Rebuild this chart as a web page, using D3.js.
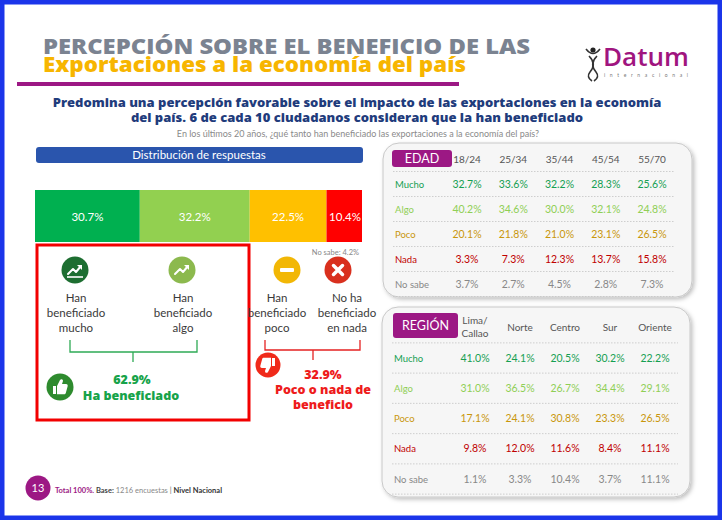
<!DOCTYPE html>
<html>
<head>
<meta charset="utf-8">
<script src="https://cdn.jsdelivr.net/npm/d3@7"></script>
<style>
  body { margin: 0; background: #fff; }
  svg text { font-family: Lato, "Open Sans", sans-serif; }
</style>
</head>
<body>
<div id="chart"></div>
<script>
// Data_____________________________________________
const segLabels = ['Mucho', 'Algo', 'Poco', 'Nada'];
const segValues = [30.7, 32.2, 22.5, 10.4];
const noSabeTotal = 4.2;
const benefTotal = 62.9;
const noBenefTotal = 32.9;
const answerLabels = [
  ['Han', 'beneficiado', 'mucho'],
  ['Han', 'beneficiado', 'algo'],
  ['Han', 'beneficiado', 'poco'],
  ['No ha', 'beneficiado', 'en nada']
];
const rowLabels = ['Mucho', 'Algo', 'Poco', 'Nada', 'No sabe'];
const edadCols = ['18/24', '25/34', '35/44', '45/54', '55/70'];
const edadValues = [
  [32.7, 33.6, 32.2, 28.3, 25.6],
  [40.2, 34.6, 30.0, 32.1, 24.8],
  [20.1, 21.8, 21.0, 23.1, 26.5],
  [3.3, 7.3, 12.3, 13.7, 15.8],
  [3.7, 2.7, 4.5, 2.8, 7.3]
];
const regionCols = ['Lima/Callao', 'Norte', 'Centro', 'Sur', 'Oriente'];
const regionValues = [
  [41.0, 24.1, 20.5, 30.2, 22.2],
  [31.0, 36.5, 26.7, 34.4, 29.1],
  [17.1, 24.1, 30.8, 23.3, 26.5],
  [9.8, 12.0, 11.6, 8.4, 11.1],
  [1.1, 3.3, 10.4, 3.7, 11.1]
];

const segColors = ['#00b050', '#92d050', '#ffc000', '#ff0000'];
const rowColors = ['#15a052', '#8fcf55', '#c9960c', '#c00000', '#888888'];
const iconColors = ['#1d6e31', '#8cb94e', '#f2b705', '#d9301e'];
const purple = '#9c1884';
const fmt = d => d.toFixed(1) + '%';

const svg = d3.select('#chart').append('svg')
  .attr('width', 722)
  .attr('height', 520);

const defs = svg.append('defs');
const shadow = defs.append('filter').attr('id', 'shadow')
  .attr('x', '-10%').attr('y', '-10%').attr('width', '120%').attr('height', '120%');
shadow.append('feDropShadow').attr('dx', 2).attr('dy', 2).attr('stdDeviation', 2)
  .attr('flood-color', '#000').attr('flood-opacity', 0.25);

svg.append('rect').attr('width', 722).attr('height', 520).attr('fill', '#fff');

// Header_____________________________________________
svg.append('text').text('PERCEPCIÓN SOBRE EL BENEFICIO DE LAS')
  .attr('x', 43).attr('y', 54)
  .attr('textLength', 487).attr('lengthAdjust', 'spacingAndGlyphs')
  .style('font-family', '"Open Sans", sans-serif').style('font-weight', 800)
  .style('font-size', '21px').attr('fill', '#7b8391');
svg.append('text').text('Exportaciones a la economía del país')
  .attr('x', 43).attr('y', 72)
  .attr('textLength', 423).attr('lengthAdjust', 'spacingAndGlyphs')
  .style('font-family', '"Open Sans", sans-serif').style('font-weight', 800)
  .style('font-size', '21px').attr('fill', '#f7b500');
svg.append('rect').attr('x', 17).attr('y', 82).attr('width', 442).attr('height', 4).attr('fill', purple);

// logo
const logo = svg.append('g');
logo.append('text').text('Datum')
  .attr('x', 603).attr('y', 66)
  .attr('textLength', 86).attr('lengthAdjust', 'spacingAndGlyphs')
  .style('font-family', '"Open Sans", sans-serif').style('font-weight', 600).style('font-size', '25px')
  .attr('fill', '#a0157f');
logo.append('text').text('internacional')
  .attr('x', 604).attr('y', 77)
  .attr('textLength', 84).attr('lengthAdjust', 'spacing')
  .style('font-size', '5px').attr('fill', '#777');
logo.append('circle').attr('cx', 593).attr('cy', 50).attr('r', 2.6).attr('fill', '#222');
logo.append('path').attr('d', 'M586,49 Q593,58 600,49 M589,56 Q597,64 590,72 Q586,77 592,81 M597,56 Q589,64 596,72 Q600,77 594,81')
  .attr('fill', 'none').attr('stroke', '#333').attr('stroke-width', 1.6);

svg.append('text').attr('text-anchor', 'middle').attr('x', 357).attr('y', 107)
  .style('font-family', '"Open Sans", sans-serif').style('font-weight', 800).style('font-size', '13px')
  .attr('fill', '#1f3c7c')
  .text('Predomina una percepción favorable sobre el impacto de las exportaciones en la economía');
svg.append('text').attr('text-anchor', 'middle').attr('x', 357).attr('y', 122)
  .style('font-family', '"Open Sans", sans-serif').style('font-weight', 800).style('font-size', '13px')
  .attr('fill', '#1f3c7c')
  .text('del país. 6 de cada 10 ciudadanos consideran que la han beneficiado');
svg.append('text').attr('text-anchor', 'middle').attr('x', 358).attr('y', 137)
  .style('font-size', '9px').attr('fill', '#8a8a8a')
  .text('En los últimos 20 años, ¿qué tanto han beneficiado las exportaciones a la economía del país?');

// Distribution bar__________________________________
svg.append('rect').attr('x', 36).attr('y', 147).attr('width', 327).attr('height', 16)
  .attr('rx', 3).attr('fill', '#2a55ad');
svg.append('text').text('Distribución de respuestas')
  .attr('x', 199).attr('y', 159).attr('text-anchor', 'middle')
  .style('font-size', '11.5px').attr('fill', '#fff');

const cum = d3.cumsum(segValues);
const starts = segValues.map((d, i) => cum[i] - d);
const xScale = d3.scaleLinear()
  .domain([0, d3.sum(segValues)])
  .range([35, 362]);

const bars = svg.append('g');
bars.selectAll('rect')
  .data(segValues)
  .enter()
  .append('rect')
  .attr('x', (d, i) => xScale(starts[i]))
  .attr('y', 190)
  .attr('width', d => xScale(d) - xScale(0))
  .attr('height', 52)
  .attr('fill', (d, i) => segColors[i]);
bars.selectAll('text')
  .data(segValues)
  .enter()
  .append('text')
  .attr('x', (d, i) => i === 3 ? xScale(cum[i]) - 1 : xScale(starts[i] + d / 2))
  .attr('y', 221)
  .attr('text-anchor', (d, i) => i === 3 ? 'end' : 'middle')
  .style('font-size', '11.5px')
  .attr('fill', '#fff')
  .text(fmt);

svg.append('text').text('No sabe: ' + fmt(noSabeTotal))
  .attr('x', 359).attr('y', 255).attr('text-anchor', 'end')
  .style('font-size', '7.5px').attr('fill', '#888');

// red box
svg.append('rect').attr('x', 37).attr('y', 245).attr('width', 212).attr('height', 175)
  .attr('fill', 'none').attr('stroke', '#f20000').attr('stroke-width', 3);

// Icons______________________________________________
const iconX = [75, 182, 287, 338];
const labelX = [76, 183, 277, 347];
const icons = svg.append('g');
iconX.forEach((cx, i) => {
  const g = icons.append('g').attr('transform', `translate(${cx},270)`);
  g.append('circle').attr('r', 13.5).attr('fill', iconColors[i]);
  if (i < 2) {
    g.append('path').attr('d', 'M-7,4 L-2,-1 L1,2 L6,-4')
      .attr('fill', 'none').attr('stroke', '#fff').attr('stroke-width', 2)
      .attr('stroke-linejoin', 'round').attr('stroke-linecap', 'round');
    g.append('path').attr('d', 'M2,-5 L7,-5 L7,0 Z').attr('fill', '#fff');
    if (i === 0) {
      g.append('path').attr('d', 'M-8,7 H8').attr('stroke', '#fff').attr('stroke-width', 1.6);
    }
  } else if (i === 2) {
    g.append('rect').attr('x', -7).attr('y', -2).attr('width', 14).attr('height', 4).attr('rx', 1).attr('fill', '#fff');
  } else {
    g.append('path').attr('d', 'M-4.5,-4.5 L4.5,4.5 M4.5,-4.5 L-4.5,4.5')
      .attr('stroke', '#fff').attr('stroke-width', 3.5).attr('stroke-linecap', 'round');
  }
});

const ansText = svg.append('g');
answerLabels.forEach((lines, i) => {
  ansText.selectAll(null)
    .data(lines)
    .enter()
    .append('text')
    .attr('x', labelX[i])
    .attr('y', (d, j) => 302 + j * 15)
    .attr('text-anchor', 'middle')
    .style('font-size', '11.5px')
    .attr('fill', '#3a3a3a')
    .text(d => d);
});

// brackets
svg.append('path').attr('d', 'M70,340 V352 H197 V340 M133,352 V362')
  .attr('fill', 'none').attr('stroke', '#2eaa55').attr('stroke-width', 1.3);
svg.append('path').attr('d', 'M265,340 V350 H360 V340 M313,350 V360')
  .attr('fill', 'none').attr('stroke', '#e52222').attr('stroke-width', 1.3);

const thumb = 'M-6,-1 H-3 V7 H-6 Z M-2,-1 L1,-7 C2,-8.5 4,-8 4,-6 L3,-3 H7 C8.5,-3 9,-2 8.6,-0.5 L6.8,6 C6.5,7 6,7.2 5,7.2 H-2 Z';
const up = svg.append('g').attr('transform', 'translate(60,387)');
up.append('circle').attr('r', 13.5).attr('fill', '#2e8b2e');
up.append('path').attr('d', thumb).attr('fill', '#fff').attr('transform', 'translate(-1,0)');
const down = svg.append('g').attr('transform', 'translate(268,365)');
down.append('circle').attr('r', 12.5).attr('fill', '#f02a1a');
down.append('path').attr('d', thumb).attr('fill', '#fff').attr('transform', 'rotate(180) translate(-1,0)');

svg.append('text').text(fmt(benefTotal))
  .attr('x', 132).attr('y', 384).attr('text-anchor', 'middle')
  .style('font-family', '"Open Sans", sans-serif').style('font-weight', 800)
  .style('font-size', '12.5px').attr('fill', '#17a34a');
svg.append('text').text('Ha beneficiado')
  .attr('x', 131).attr('y', 400).attr('text-anchor', 'middle')
  .style('font-family', '"Open Sans", sans-serif').style('font-weight', 800)
  .style('font-size', '12.5px').attr('fill', '#17a34a');

[fmt(noBenefTotal), 'Poco o nada de', 'beneficio'].forEach((t, i) => {
  svg.append('text').text(t)
    .attr('x', 323).attr('y', 379 + i * 15).attr('text-anchor', 'middle')
    .style('font-family', '"Open Sans", sans-serif').style('font-weight', 800)
    .style('font-size', '12.5px').attr('fill', '#ee1c1c');
});

// Tables_____________________________________________
function drawTable(opt) {
  const g = svg.append('g');
  g.append('rect')
    .attr('x', opt.box[0]).attr('y', opt.box[1])
    .attr('width', opt.box[2]).attr('height', opt.box[3])
    .attr('rx', 16).attr('fill', '#f6f6f6').attr('stroke', '#c8c8c8')
    .attr('filter', 'url(#shadow)');
  g.append('rect')
    .attr('x', opt.tag[0]).attr('y', opt.tag[1])
    .attr('width', opt.tag[2]).attr('height', opt.tag[3])
    .attr('rx', 3).attr('fill', purple);
  g.append('text').text(opt.title)
    .attr('x', opt.tag[0] + opt.tag[2] / 2).attr('y', opt.tag[1] + opt.tag[3] / 2 + 4.5)
    .attr('text-anchor', 'middle').style('font-size', '12.5px').attr('fill', '#fff');

  const xCol = d3.scalePoint().domain(opt.cols).range(opt.colRange);
  const yRow = d3.scalePoint().domain(rowLabels).range(opt.rowRange);
  const step = yRow.step();

  // dashed separators
  g.selectAll('line.sep')
    .data(d3.range(rowLabels.length + 1))
    .enter()
    .append('line')
    .attr('class', 'sep')
    .attr('x1', opt.lineX[0]).attr('x2', opt.lineX[1])
    .attr('y1', i => opt.rowRange[0] - step / 2 + i * step)
    .attr('y2', i => opt.rowRange[0] - step / 2 + i * step)
    .attr('stroke', '#c4c4c4').attr('stroke-width', 0.8).attr('stroke-dasharray', '1.5,1.5');

  // column headers
  opt.cols.forEach(c => {
    const parts = c.split('/');
    const lines = parts.length > 1 && opt.splitHeader ? [parts[0] + '/', parts[1]] : [c];
    lines.forEach((t, j) => {
      g.append('text').text(t)
        .attr('x', xCol(c))
        .attr('y', opt.headerY + 3.5 - (lines.length - 1) * 6.5 + j * 13)
        .attr('text-anchor', 'middle').style('font-size', '10px').attr('fill', '#555');
    });
  });

  // row labels
  g.selectAll('text.row')
    .data(rowLabels)
    .enter()
    .append('text')
    .attr('class', 'row')
    .attr('x', opt.lineX[0] + 2)
    .attr('y', d => yRow(d) + 3.5)
    .style('font-size', '9.5px')
    .attr('fill', (d, i) => rowColors[i])
    .text(d => d);

  // values
  opt.values.forEach((row, r) => {
    g.selectAll(null)
      .data(row)
      .enter()
      .append('text')
      .attr('x', (d, i) => xCol(opt.cols[i]))
      .attr('y', yRow(rowLabels[r]) + 3.5)
      .attr('text-anchor', 'middle')
      .style('font-size', '10.5px')
      .attr('fill', rowColors[r])
      .text(fmt);
  });
}

drawTable({
  title: 'EDAD', cols: edadCols, values: edadValues,
  box: [383, 143, 309, 154], tag: [392, 150, 60, 17],
  colRange: [467, 652], rowRange: [184, 284], lineX: [393, 675],
  headerY: 159, splitHeader: false
});
drawTable({
  title: 'REGIÓN', cols: regionCols, values: regionValues,
  box: [382, 307, 308, 190], tag: [393, 313, 65, 25],
  colRange: [475, 655], rowRange: [358, 479], lineX: [392, 678],
  headerY: 327, splitHeader: true
});

// Footer_____________________________________________
svg.append('circle').attr('cx', 38).attr('cy', 488).attr('r', 12.5).attr('fill', purple);
svg.append('text').text('13').attr('x', 38).attr('y', 492).attr('text-anchor', 'middle')
  .style('font-size', '11px').attr('fill', '#fff');
const foot = svg.append('text').attr('x', 55).attr('y', 493).style('font-size', '7.5px');
foot.append('tspan').text('Total 100%.').attr('fill', purple).style('font-weight', 700);
foot.append('tspan').text(' Base:').attr('fill', '#444').style('font-weight', 700);
foot.append('tspan').text(' 1216 encuestas ').attr('fill', '#888');
foot.append('tspan').text('| ').attr('fill', '#666');
foot.append('tspan').text('Nivel Nacional').attr('fill', '#333').style('font-weight', 700);

// Blue frame
svg.append('rect').attr('x', 2).attr('y', 2).attr('width', 718).attr('height', 516)
  .attr('fill', 'none').attr('stroke', '#1b35ea').attr('stroke-width', 5);
</script>
</body>
</html>
